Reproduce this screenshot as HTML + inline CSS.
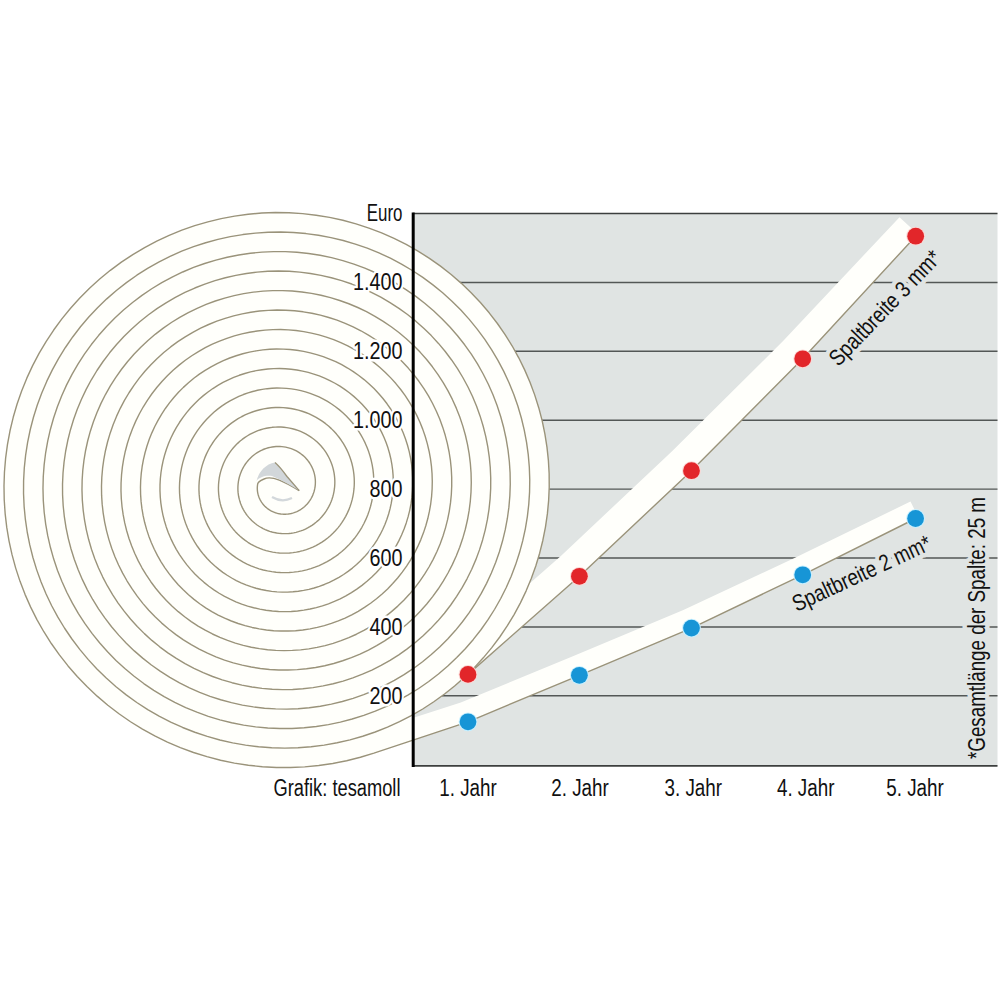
<!DOCTYPE html>
<html><head><meta charset="utf-8"><style>
html,body{margin:0;padding:0;background:#fff;width:1000px;height:1000px;overflow:hidden}
svg{display:block}
</style></head><body>
<svg width="1000" height="1000" viewBox="0 0 1000 1000">
<rect x="413" y="213.5" width="584.5" height="552.5" fill="#e0e4e3"/>
<line x1="413" y1="282.4" x2="997.5" y2="282.4" stroke="#535756" stroke-width="1.45"/>
<line x1="413" y1="351.3" x2="997.5" y2="351.3" stroke="#535756" stroke-width="1.45"/>
<line x1="413" y1="420.2" x2="997.5" y2="420.2" stroke="#535756" stroke-width="1.45"/>
<line x1="413" y1="489.1" x2="997.5" y2="489.1" stroke="#535756" stroke-width="1.45"/>
<line x1="413" y1="558.0" x2="997.5" y2="558.0" stroke="#535756" stroke-width="1.45"/>
<line x1="413" y1="626.9" x2="997.5" y2="626.9" stroke="#535756" stroke-width="1.45"/>
<line x1="413" y1="695.8" x2="997.5" y2="695.8" stroke="#535756" stroke-width="1.45"/>
<path d="M529.11,583.94 L532.06,576.47 L534.79,568.91 L537.28,561.27 L539.55,553.55 L541.58,545.76 L543.38,537.92 L544.94,530.02 L546.26,522.08 L547.35,514.09 L548.19,506.08 L548.79,498.04 L549.15,489.98 L549.27,481.91 L549.14,473.84 L548.77,465.78 L548.16,457.72 L547.30,449.69 L546.20,441.68 L544.86,433.71 L543.28,425.77 L541.46,417.89 L539.41,410.06 L537.12,402.30 L534.59,394.60 L531.83,386.98 L528.85,379.45 L525.63,372.01 L522.19,364.66 L518.54,357.42 L514.66,350.29 L510.57,343.27 L506.27,336.39 L501.76,329.63 L497.04,323.01 L492.13,316.53 L487.03,310.20 L481.73,304.02 L476.25,298.01 L470.58,292.16 L464.74,286.48 L458.74,280.98 L452.56,275.66 L446.23,270.52 L439.74,265.58 L433.10,260.84 L426.32,256.29 L419.41,251.95 L412.36,247.82 L405.19,243.90 L397.91,240.20 L390.51,236.72 L383.01,233.46 L375.41,230.43 L367.72,227.63 L359.95,225.06 L352.10,222.72 L344.18,220.62 L336.20,218.76 L328.16,217.14 L320.08,215.76 L311.96,214.63 L303.80,213.74 L295.61,213.10 L287.41,212.71 L279.20,212.56 L270.98,212.66 L262.77,213.01 L254.56,213.60 L246.38,214.44 L238.23,215.53 L230.10,216.87 L222.02,218.44 L213.99,220.27 L206.01,222.33 L198.10,224.64 L190.25,227.18 L182.49,229.96 L174.80,232.97 L167.21,236.22 L159.72,239.69 L152.34,243.39 L145.06,247.31 L137.91,251.45 L130.88,255.80 L123.98,260.37 L117.22,265.14 L110.61,270.12 L104.15,275.29 L97.84,280.66 L91.70,286.22 L85.72,291.96 L79.92,297.88 L74.30,303.98 L68.86,310.25 L63.61,316.68 L58.56,323.26 L53.70,330.00 L49.05,336.88 L44.61,343.91 L40.37,351.06 L36.36,358.35 L32.56,365.75 L28.99,373.27 L25.65,380.89 L22.53,388.61 L19.65,396.43 L17.01,404.33 L14.60,412.31 L12.44,420.36 L10.51,428.48 L8.83,436.66 L7.40,444.88 L6.22,453.15 L5.29,461.45 L4.60,469.77 L4.17,478.12 L3.99,486.48 L4.06,494.84 L4.38,503.21 L4.96,511.56 L5.78,519.89 L6.86,528.19 L8.19,536.47 L9.77,544.70 L11.59,552.88 L13.67,561.01 L15.98,569.07 L18.54,577.06 L21.34,584.98 L24.38,592.81 L27.65,600.54 L31.16,608.18 L34.90,615.71 L38.86,623.13 L43.04,630.42 L47.45,637.59 L52.07,644.63 L56.90,651.53 L61.94,658.27 L67.19,664.87 L72.63,671.31 L78.26,677.58 L84.08,683.68 L90.09,689.61 L96.27,695.36 L102.63,700.91 L109.15,706.28 L115.84,711.45 L122.67,716.41 L129.66,721.17 L136.79,725.72 L144.06,730.05 L151.46,734.16 L158.98,738.05 L166.61,741.71 L174.36,745.15 L182.20,748.34 L190.15,751.30 L198.18,754.03 L206.29,756.50 L214.48,758.74 L222.73,760.72 L231.04,762.46 L239.40,763.95 L247.81,765.18 L256.25,766.16 L264.72,766.89 L273.22,767.36 L281.72,767.58 L290.23,767.54 L298.74,767.24 L307.24,766.68 L315.72,765.87 L324.17,764.81 L332.60,763.49 L340.98,761.91 L349.31,760.09 L357.59,758.01 L365.80,755.68 L373.94,753.11 L468.00,721.80 L579.40,675.30 L691.50,628.10 L802.70,574.80 L918.28,517.16 L910.48,501.50 L794.53,558.09 L683.37,610.04 L571.67,656.86 L460.80,702.59 L333.64,743.48 L341.61,741.84 L349.52,739.96 L357.37,737.83 L365.16,735.46 L372.87,732.85 L380.51,730.01 L388.05,726.92 L395.50,723.61 L402.84,720.06 L410.07,716.29 L417.19,712.30 L424.18,708.08 L431.04,703.66 L437.77,699.02 L444.35,694.17 L450.78,689.12 L457.05,683.87 L463.16,678.43 L469.10,672.80 L468.00,674.40 L579.40,576.30 L691.50,470.70 L802.70,358.80 L917.73,233.99 L899.50,217.19 L783.55,340.47 L672.31,450.99 L560.88,555.97 L449.83,653.76 L529.11,583.94Z" fill="#fffffb"/>
<path d="M299.2,490.6 C285,482 272,475 264,479 C259,481 257.3,483 257.5,485.2 L257.37,486.41 L257.31,487.63 L257.31,488.86 L257.37,490.09 L257.49,491.33 L257.68,492.57 L257.94,493.81 L258.25,495.03 L258.63,496.25 L259.08,497.46 L259.59,498.64 L260.16,499.81 L260.79,500.95 L261.49,502.07 L262.24,503.15 L263.05,504.20 L263.93,505.22 L264.85,506.19 L265.83,507.13 L266.86,508.01 L267.95,508.85 L269.08,509.64 L270.25,510.37 L271.47,511.05 L272.72,511.66 L274.01,512.22 L275.34,512.71 L276.70,513.14 L278.08,513.50 L279.49,513.79 L280.92,514.01 L282.36,514.15 L283.82,514.23 L285.29,514.23 L286.77,514.16 L288.24,514.01 L289.72,513.79 L291.19,513.49 L292.65,513.11 L294.09,512.66 L295.52,512.13 L296.93,511.53 L298.31,510.86 L299.67,510.11 L300.99,509.29 L302.27,508.40 L303.51,507.45 L304.71,506.42 L305.86,505.33 L306.97,504.18 L308.01,502.97 L309.00,501.70 L309.93,500.38 L310.79,499.01 L311.59,497.58 L312.32,496.12 L312.97,494.61 L313.55,493.06 L314.06,491.47 L314.49,489.86 L314.83,488.22 L315.10,486.56 L315.28,484.87 L315.37,483.17 L315.39,481.47 L315.31,479.75 L315.15,478.04 L314.90,476.32 L314.56,474.62 L314.13,472.92 L313.62,471.24 L313.02,469.59 L312.34,467.95 L311.57,466.35 L310.72,464.78 L309.78,463.25 L308.77,461.76 L307.67,460.32 L306.50,458.93 L305.26,457.60 L303.95,456.32 L302.56,455.11 L301.11,453.96 L299.60,452.89 L298.03,451.88 L296.41,450.95 L294.73,450.11 L293.01,449.34 L291.24,448.66 L289.44,448.07 L287.59,447.56 L285.72,447.15 L283.82,446.83 L281.90,446.61 L279.97,446.48 L278.02,446.45 L276.06,446.52 L274.11,446.69 L272.16,446.96 L270.21,447.32 L268.28,447.79 L266.37,448.35 L264.48,449.01 L262.62,449.77 L260.79,450.63 L259.00,451.58 L257.25,452.62 L255.56,453.76 L253.91,454.98 L252.32,456.29 L250.80,457.68 L249.34,459.15 L247.95,460.70 L246.64,462.32 L245.41,464.01 L244.25,465.77 L243.19,467.59 L242.21,469.47 L241.33,471.41 L240.54,473.39 L239.85,475.42 L239.26,477.48 L238.77,479.59 L238.39,481.72 L238.12,483.87 L237.95,486.05 L237.89,488.23 L237.94,490.43 L238.10,492.63 L238.38,494.82 L238.76,497.01 L239.26,499.18 L239.87,501.33 L240.58,503.45 L241.41,505.54 L242.34,507.60 L243.38,509.61 L244.52,511.58 L245.77,513.49 L247.11,515.35 L248.55,517.14 L250.08,518.86 L251.70,520.50 L253.41,522.07 L255.20,523.56 L257.07,524.96 L259.01,526.27 L261.03,527.48 L263.11,528.59 L265.25,529.60 L267.44,530.51 L269.69,531.31 L271.97,531.99 L274.30,532.56 L276.66,533.02 L279.05,533.36 L281.46,533.57 L283.89,533.67 L286.33,533.64 L288.77,533.49 L291.20,533.22 L293.63,532.83 L296.04,532.31 L298.43,531.67 L300.79,530.91 L303.12,530.03 L305.41,529.03 L307.65,527.91 L309.84,526.68 L311.98,525.33 L314.05,523.87 L316.04,522.31 L317.97,520.65 L319.81,518.88 L321.57,517.02 L323.24,515.07 L324.81,513.03 L326.28,510.90 L327.65,508.70 L328.91,506.43 L330.05,504.09 L331.08,501.69 L332.00,499.23 L332.79,496.72 L333.45,494.17 L333.99,491.58 L334.40,488.96 L334.67,486.31 L334.82,483.65 L334.83,480.97 L334.70,478.29 L334.44,475.61 L334.05,472.94 L333.52,470.29 L332.86,467.65 L332.06,465.05 L331.13,462.48 L330.07,459.96 L328.88,457.48 L327.57,455.06 L326.13,452.71 L324.57,450.42 L322.89,448.20 L321.10,446.07 L319.20,444.03 L317.19,442.07 L315.08,440.22 L312.88,438.47 L310.58,436.82 L308.20,435.29 L305.74,433.88 L303.20,432.59 L300.59,431.42 L297.93,430.39 L295.20,429.48 L292.43,428.72 L289.61,428.09 L286.76,427.60 L283.88,427.25 L280.98,427.05 L278.06,426.99 L275.14,427.08 L272.22,427.32 L269.30,427.71 L266.40,428.24 L263.53,428.92 L260.68,429.74 L257.87,430.71 L255.11,431.82 L252.40,433.07 L249.74,434.46 L247.16,435.98 L244.64,437.64 L242.21,439.42 L239.86,441.33 L237.61,443.36 L235.46,445.51 L233.41,447.76 L231.47,450.12 L229.65,452.59 L227.94,455.14 L226.37,457.79 L224.93,460.52 L223.62,463.32 L222.45,466.20 L221.42,469.13 L220.54,472.13 L219.81,475.17 L219.23,478.24 L218.81,481.36 L218.54,484.50 L218.43,487.65 L218.47,490.81 L218.68,493.98 L219.04,497.14 L219.57,500.28 L220.25,503.41 L221.09,506.50 L222.09,509.55 L223.24,512.56 L224.54,515.51 L226.00,518.40 L227.60,521.22 L229.34,523.96 L231.22,526.62 L233.24,529.18 L235.39,531.65 L237.67,534.01 L240.07,536.27 L242.58,538.40 L245.20,540.41 L247.93,542.29 L250.76,544.03 L253.67,545.64 L256.67,547.10 L259.75,548.41 L262.89,549.57 L266.10,550.57 L269.36,551.41 L272.66,552.09 L276.00,552.60 L279.38,552.94 L282.77,553.12 L286.17,553.13 L289.58,552.96 L292.99,552.63 L296.38,552.12 L299.75,551.44 L303.08,550.59 L306.38,549.58 L309.63,548.40 L312.83,547.05 L315.96,545.54 L319.02,543.87 L321.99,542.05 L324.88,540.08 L327.67,537.95 L330.36,535.69 L332.94,533.29 L335.40,530.76 L337.73,528.10 L339.93,525.32 L342.00,522.43 L343.92,519.44 L345.69,516.34 L347.31,513.15 L348.77,509.88 L350.07,506.53 L351.20,503.12 L352.16,499.64 L352.95,496.11 L353.56,492.54 L353.99,488.94 L354.25,485.31 L354.31,481.66 L354.20,478.01 L353.90,474.36 L353.42,470.73 L352.76,467.11 L351.92,463.52 L350.89,459.98 L349.68,456.48 L348.30,453.04 L346.75,449.66 L345.02,446.36 L343.13,443.15 L341.07,440.03 L338.86,437.00 L336.49,434.09 L333.98,431.29 L331.32,428.62 L328.52,426.08 L325.60,423.68 L322.55,421.42 L319.39,419.31 L316.12,417.36 L312.74,415.57 L309.28,413.95 L305.73,412.51 L302.11,411.24 L298.42,410.15 L294.67,409.24 L290.88,408.52 L287.04,408.00 L283.18,407.66 L279.30,407.52 L275.40,407.57 L271.51,407.82 L267.62,408.26 L263.76,408.90 L259.92,409.73 L256.13,410.76 L252.38,411.98 L248.69,413.38 L245.07,414.98 L241.53,416.75 L238.07,418.71 L234.71,420.84 L231.45,423.14 L228.31,425.60 L225.28,428.22 L222.39,431.00 L219.63,433.92 L217.02,436.99 L214.57,440.19 L212.27,443.51 L210.13,446.95 L208.17,450.50 L206.38,454.15 L204.78,457.89 L203.36,461.72 L202.13,465.62 L201.10,469.58 L200.26,473.60 L199.63,477.66 L199.20,481.76 L198.98,485.88 L198.96,490.01 L199.15,494.15 L199.55,498.28 L200.15,502.39 L200.96,506.48 L201.98,510.53 L203.20,514.53 L204.62,518.47 L206.24,522.34 L208.06,526.13 L210.06,529.83 L212.26,533.44 L214.63,536.93 L217.19,540.31 L219.91,543.57 L222.80,546.69 L225.84,549.66 L229.04,552.49 L232.38,555.15 L235.86,557.65 L239.46,559.98 L243.18,562.13 L247.02,564.09 L250.95,565.86 L254.97,567.43 L259.08,568.81 L263.25,569.98 L267.49,570.93 L271.78,571.68 L276.10,572.22 L280.46,572.53 L284.83,572.63 L289.21,572.51 L293.59,572.17 L297.95,571.61 L302.29,570.83 L306.59,569.83 L310.84,568.62 L315.03,567.19 L319.15,565.55 L323.20,563.70 L327.15,561.65 L331.00,559.40 L334.74,556.96 L338.36,554.33 L341.85,551.51 L345.20,548.52 L348.41,545.36 L351.45,542.04 L354.33,538.56 L357.04,534.94 L359.56,531.18 L361.90,527.29 L364.05,523.28 L365.99,519.17 L367.73,514.95 L369.26,510.64 L370.57,506.26 L371.67,501.81 L372.54,497.30 L373.19,492.75 L373.60,488.16 L373.79,483.55 L373.75,478.92 L373.47,474.30 L372.97,469.69 L372.23,465.10 L371.26,460.55 L370.06,456.04 L368.64,451.60 L366.99,447.22 L365.12,442.92 L363.04,438.72 L360.74,434.61 L358.24,430.62 L355.54,426.76 L352.64,423.03 L349.56,419.44 L346.29,416.01 L342.85,412.74 L339.24,409.64 L335.48,406.72 L331.57,403.98 L327.52,401.45 L323.34,399.11 L319.05,396.98 L314.64,395.07 L310.14,393.38 L305.55,391.91 L300.89,390.67 L296.16,389.67 L291.38,388.90 L286.56,388.37 L281.72,388.08 L276.85,388.04 L271.99,388.24 L267.13,388.68 L262.29,389.37 L257.48,390.30 L252.72,391.47 L248.02,392.88 L243.38,394.53 L238.83,396.40 L234.37,398.51 L230.01,400.85 L225.77,403.40 L221.66,406.16 L217.68,409.13 L213.85,412.31 L210.18,415.67 L206.68,419.22 L203.35,422.95 L200.21,426.84 L197.26,430.90 L194.52,435.10 L191.99,439.44 L189.67,443.91 L187.57,448.50 L185.71,453.19 L184.08,457.98 L182.69,462.85 L181.54,467.79 L180.64,472.79 L179.99,477.84 L179.60,482.92 L179.45,488.02 L179.57,493.13 L179.94,498.24 L180.56,503.33 L181.44,508.39 L182.58,513.40 L183.97,518.36 L185.60,523.26 L187.48,528.07 L189.61,532.79 L191.97,537.40 L194.56,541.90 L197.38,546.26 L200.41,550.49 L203.66,554.57 L207.12,558.48 L210.77,562.22 L214.61,565.78 L218.63,569.15 L222.82,572.32 L227.17,575.27 L231.67,578.01 L236.30,580.53 L241.07,582.81 L245.95,584.86 L250.93,586.66 L256.00,588.21 L261.16,589.51 L266.38,590.55 L271.65,591.33 L276.96,591.85 L282.30,592.10 L287.65,592.08 L293.00,591.79 L298.34,591.23 L303.66,590.41 L308.93,589.32 L314.15,587.97 L319.30,586.35 L324.37,584.48 L329.35,582.35 L334.22,579.97 L338.98,577.35 L343.60,574.49 L348.08,571.39 L352.41,568.07 L356.57,564.54 L360.56,560.79 L364.36,556.85 L367.96,552.71 L371.35,548.39 L374.53,543.90 L377.48,539.25 L380.21,534.46 L382.69,529.52 L384.92,524.46 L386.90,519.29 L388.63,514.02 L390.08,508.66 L391.27,503.22 L392.19,497.73 L392.84,492.19 L393.20,486.62 L393.29,481.02 L393.09,475.43 L392.62,469.84 L391.86,464.27 L390.83,458.74 L389.52,453.27 L387.94,447.85 L386.08,442.52 L383.95,437.28 L381.57,432.14 L378.92,427.13 L376.03,422.24 L372.89,417.50 L369.51,412.92 L365.90,408.50 L362.07,404.27 L358.02,400.23 L353.78,396.39 L349.34,392.76 L344.72,389.35 L339.92,386.18 L334.97,383.25 L329.87,380.56 L324.64,378.13 L319.28,375.96 L313.81,374.06 L308.25,372.43 L302.61,371.08 L296.90,370.01 L291.13,369.23 L285.33,368.74 L279.50,368.54 L273.65,368.63 L267.82,369.01 L262.00,369.69 L256.22,370.66 L250.48,371.92 L244.80,373.46 L239.21,375.29 L233.70,377.40 L228.30,379.79 L223.02,382.44 L217.87,385.37 L212.87,388.55 L208.03,391.98 L203.36,395.65 L198.87,399.56 L194.58,403.69 L190.49,408.04 L186.62,412.59 L182.99,417.34 L179.58,422.26 L176.43,427.36 L173.53,432.62 L170.89,438.03 L168.53,443.56 L166.44,449.22 L164.63,454.97 L163.11,460.82 L161.89,466.75 L160.96,472.74 L160.33,478.77 L160.01,484.84 L159.99,490.92 L160.27,497.00 L160.86,503.07 L161.75,509.11 L162.95,515.11 L164.44,521.04 L166.24,526.91 L168.32,532.68 L170.70,538.34 L173.36,543.89 L176.29,549.31 L179.50,554.57 L182.97,559.68 L186.70,564.61 L190.68,569.36 L194.89,573.91 L199.33,578.24 L203.99,582.35 L208.85,586.23 L213.91,589.87 L219.15,593.25 L224.56,596.37 L230.13,599.22 L235.84,601.79 L241.67,604.08 L247.63,606.07 L253.68,607.76 L259.81,609.15 L266.02,610.24 L272.28,611.01 L278.58,611.47 L284.90,611.61 L291.23,611.44 L297.55,610.95 L303.84,610.14 L310.10,609.02 L316.29,607.58 L322.42,605.84 L328.46,603.79 L334.39,601.43 L340.21,598.78 L345.89,595.84 L351.43,592.61 L356.80,589.10 L362.00,585.33 L367.01,581.30 L371.82,577.01 L376.41,572.48 L380.77,567.73 L384.90,562.76 L388.78,557.58 L392.39,552.20 L395.74,546.65 L398.81,540.92 L401.59,535.05 L404.08,529.03 L406.27,522.89 L408.15,516.65 L409.72,510.30 L410.96,503.88 L411.89,497.40 L412.49,490.87 L412.77,484.32 L412.71,477.75 L412.33,471.18 L411.62,464.63 L410.58,458.12 L409.22,451.66 L407.53,445.27 L405.52,438.96 L403.19,432.76 L400.56,426.67 L397.62,420.71 L394.38,414.91 L390.85,409.26 L387.04,403.79 L382.96,398.52 L378.61,393.45 L374.01,388.59 L369.16,383.97 L364.09,379.59 L358.79,375.47 L353.29,371.61 L347.60,368.03 L341.73,364.73 L335.69,361.73 L329.51,359.03 L323.19,356.64 L316.75,354.56 L310.20,352.81 L303.57,351.39 L296.87,350.30 L290.12,349.55 L283.33,349.13 L276.52,349.05 L269.70,349.32 L262.90,349.92 L256.13,350.87 L249.41,352.16 L242.75,353.78 L236.18,355.73 L229.71,358.02 L223.35,360.63 L217.12,363.55 L211.04,366.79 L205.12,370.33 L199.38,374.17 L193.83,378.29 L188.49,382.70 L183.37,387.37 L178.49,392.29 L173.85,397.46 L169.47,402.86 L165.37,408.48 L161.54,414.30 L158.01,420.32 L154.78,426.51 L151.86,432.86 L149.26,439.35 L146.98,445.98 L145.04,452.72 L143.43,459.56 L142.17,466.47 L141.25,473.45 L140.68,480.47 L140.47,487.52 L140.61,494.58 L141.10,501.63 L141.94,508.65 L143.14,515.64 L144.68,522.56 L146.57,529.40 L148.81,536.15 L151.38,542.78 L154.28,549.28 L157.51,555.64 L161.05,561.84 L164.91,567.85 L169.07,573.67 L173.51,579.29 L178.24,584.68 L183.24,589.83 L188.49,594.73 L193.99,599.36 L199.72,603.73 L205.67,607.80 L211.82,611.57 L218.15,615.04 L224.66,618.19 L231.33,621.01 L238.14,623.49 L245.07,625.64 L252.10,627.44 L259.23,628.88 L266.42,629.97 L273.67,630.70 L280.96,631.06 L288.26,631.06 L295.56,630.70 L302.84,629.97 L310.08,628.87 L317.27,627.41 L324.38,625.59 L331.39,623.42 L338.30,620.90 L345.08,618.03 L351.72,614.82 L358.19,611.28 L364.49,607.41 L370.59,603.23 L376.48,598.75 L382.14,593.97 L387.57,588.91 L392.74,583.58 L397.64,578.00 L402.26,572.16 L406.59,566.10 L410.61,559.82 L414.32,553.35 L417.70,546.68 L420.75,539.85 L423.45,532.87 L425.81,525.76 L427.81,518.53 L429.44,511.20 L430.71,503.79 L431.61,496.31 L432.13,488.80 L432.28,481.26 L432.05,473.71 L431.44,466.18 L430.45,458.68 L429.09,451.23 L427.36,443.85 L425.26,436.56 L422.79,429.37 L419.96,422.32 L416.78,415.40 L413.26,408.65 L409.40,402.07 L405.20,395.69 L400.70,389.52 L395.88,383.57 L390.76,377.87 L385.37,372.43 L379.70,367.26 L373.77,362.37 L367.60,357.78 L361.20,353.50 L354.59,349.55 L347.79,345.92 L340.80,342.64 L333.65,339.71 L326.35,337.13 L318.93,334.92 L311.40,333.09 L303.78,331.63 L296.09,330.55 L288.34,329.86 L280.57,329.56 L272.78,329.65 L265.00,330.12 L257.24,330.99 L249.53,332.24 L241.88,333.88 L234.32,335.90 L226.86,338.30 L219.52,341.08 L212.32,344.22 L205.28,347.72 L198.42,351.57 L191.76,355.76 L185.30,360.29 L179.08,365.14 L173.09,370.29 L167.37,375.75 L161.93,381.49 L156.77,387.50 L151.91,393.77 L147.37,400.28 L143.16,407.02 L139.28,413.97 L135.76,421.10 L132.59,428.42 L129.79,435.88 L127.36,443.49 L125.32,451.22 L123.66,459.04 L122.40,466.95 L121.53,474.92 L121.06,482.93 L120.99,490.96 L121.33,498.99 L122.06,507.00 L123.20,514.97 L124.73,522.89 L126.67,530.72 L128.99,538.46 L131.70,546.08 L134.79,553.56 L138.25,560.88 L142.08,568.02 L146.27,574.98 L150.80,581.72 L155.67,588.23 L160.87,594.50 L166.37,600.50 L172.18,606.23 L178.27,611.67 L184.63,616.79 L191.24,621.60 L198.10,626.08 L205.17,630.21 L212.45,633.99 L219.92,637.40 L227.56,640.43 L235.34,643.08 L243.26,645.34 L251.28,647.21 L259.40,648.67 L267.59,649.73 L275.83,650.37 L284.10,650.60 L292.37,650.42 L300.64,649.83 L308.87,648.82 L317.05,647.39 L325.16,645.56 L333.17,643.33 L341.07,640.69 L348.83,637.66 L356.44,634.24 L363.87,630.44 L371.11,626.27 L378.15,621.74 L384.95,616.86 L391.50,611.64 L397.80,606.10 L403.81,600.24 L409.53,594.08 L414.93,587.64 L420.01,580.92 L424.76,573.96 L429.15,566.76 L433.19,559.35 L436.85,551.73 L440.13,543.93 L443.01,535.97 L445.50,527.87 L447.58,519.65 L449.25,511.33 L450.50,502.93 L451.33,494.46 L451.73,485.96 L451.71,477.44 L451.27,468.92 L450.40,460.43 L449.10,451.99 L447.38,443.61 L445.24,435.33 L442.69,427.15 L439.73,419.10 L436.36,411.21 L432.61,403.48 L428.47,395.95 L423.95,388.63 L419.07,381.53 L413.83,374.68 L408.25,368.10 L402.35,361.80 L396.13,355.79 L389.61,350.10 L382.81,344.74 L375.75,339.72 L368.43,335.05 L360.89,330.76 L353.13,326.84 L345.18,323.31 L337.06,320.18 L328.78,317.46 L320.37,315.16 L311.84,313.27 L303.23,311.82 L294.54,310.79 L285.81,310.20 L277.05,310.05 L268.29,310.34 L259.54,311.06 L250.83,312.23 L242.19,313.83 L233.63,315.86 L225.17,318.31 L216.84,321.20 L208.66,324.49 L200.64,328.20 L192.81,332.30 L185.20,336.80 L177.81,341.67 L170.66,346.92 L163.78,352.51 L157.19,358.46 L150.89,364.72 L144.91,371.31 L139.26,378.18 L133.96,385.34 L129.02,392.76 L124.45,400.43 L120.27,408.32 L116.49,416.42 L113.11,424.70 L110.15,433.15 L107.61,441.75 L105.50,450.47 L103.83,459.29 L102.60,468.19 L101.82,477.15 L101.49,486.14 L101.60,495.15 L102.17,504.15 L103.19,513.12 L104.66,522.03 L106.57,530.86 L108.92,539.60 L111.71,548.22 L114.93,556.69 L118.58,564.99 L122.64,573.12 L127.10,581.03 L131.95,588.72 L137.19,596.16 L142.80,603.34 L148.77,610.23 L155.08,616.82 L161.72,623.10 L168.67,629.04 L175.91,634.62 L183.43,639.85 L191.21,644.69 L199.23,649.15 L207.47,653.20 L215.90,656.83 L224.52,660.05 L233.29,662.83 L242.20,665.17 L251.22,667.06 L260.34,668.50 L269.52,669.48 L278.74,670.01 L287.99,670.07 L297.24,669.67 L306.47,668.80 L315.64,667.48 L324.75,665.70 L333.77,663.46 L342.66,660.77 L351.42,657.63 L360.02,654.06 L368.44,650.06 L376.65,645.64 L384.64,640.81 L392.39,635.59 L399.87,629.97 L407.06,623.99 L413.95,617.65 L420.52,610.96 L426.76,603.95 L432.64,596.63 L438.15,589.02 L443.28,581.14 L448.01,573.00 L452.33,564.63 L456.24,556.05 L459.71,547.28 L462.74,538.33 L465.32,529.24 L467.44,520.02 L469.11,510.70 L470.30,501.30 L471.02,491.85 L471.28,482.36 L471.05,472.87 L470.35,463.39 L469.18,453.95 L467.53,444.57 L465.42,435.28 L462.84,426.10 L459.80,417.05 L456.31,408.16 L452.38,399.44 L448.01,390.93 L443.22,382.64 L438.02,374.59 L432.42,366.81 L426.43,359.31 L420.06,352.11 L413.34,345.24 L406.28,338.70 L398.89,332.52 L391.20,326.72 L383.22,321.30 L374.97,316.28 L366.48,311.68 L357.76,307.50 L348.83,303.77 L339.72,300.48 L330.45,297.65 L321.04,295.29 L311.52,293.39 L301.91,291.98 L292.23,291.04 L282.51,290.59 L272.78,290.63 L263.04,291.16 L253.34,292.17 L243.70,293.67 L234.13,295.64 L224.66,298.10 L215.33,301.03 L206.14,304.43 L197.13,308.28 L188.32,312.58 L179.72,317.33 L171.37,322.50 L163.28,328.08 L155.47,334.07 L147.97,340.45 L140.79,347.20 L133.95,354.30 L127.46,361.75 L121.36,369.51 L115.64,377.58 L110.34,385.93 L105.45,394.54 L100.99,403.39 L96.99,412.46 L93.43,421.73 L90.34,431.17 L87.73,440.76 L85.60,450.48 L83.95,460.30 L82.80,470.19 L82.14,480.14 L81.98,490.12 L82.32,500.10 L83.17,510.06 L84.50,519.97 L86.34,529.81 L88.66,539.56 L91.47,549.18 L94.77,558.66 L98.53,567.97 L102.76,577.08 L107.44,585.98 L112.57,594.65 L118.13,603.05 L124.10,611.16 L130.48,618.98 L137.25,626.47 L144.39,633.62 L151.88,640.41 L159.71,646.82 L167.86,652.84 L176.30,658.44 L185.02,663.62 L193.99,668.36 L203.20,672.65 L212.62,676.48 L222.22,679.83 L231.99,682.70 L241.90,685.08 L251.92,686.97 L262.03,688.35 L272.21,689.22 L282.42,689.59 L292.65,689.44 L302.86,688.78 L313.04,687.61 L323.15,685.93 L333.17,683.75 L343.08,681.07 L352.85,677.89 L362.46,674.22 L371.88,670.08 L381.08,665.46 L390.05,660.39 L398.77,654.87 L407.20,648.92 L415.33,642.55 L423.13,635.77 L430.60,628.61 L437.70,621.08 L444.42,613.20 L450.74,604.98 L456.65,596.45 L462.13,587.63 L467.16,578.54 L471.74,569.20 L475.85,559.64 L479.47,549.88 L482.61,539.94 L485.25,529.85 L487.38,519.63 L488.99,509.31 L490.10,498.92 L490.68,488.48 L490.73,478.01 L490.27,467.54 L489.28,457.10 L487.76,446.72 L485.73,436.42 L483.19,426.23 L480.13,416.17 L476.58,406.26 L472.53,396.54 L467.99,387.03 L462.98,377.75 L457.51,368.72 L451.60,359.98 L445.24,351.53 L438.47,343.41 L431.29,335.62 L423.73,328.21 L415.80,321.17 L407.52,314.54 L398.92,308.32 L390.01,302.54 L380.81,297.20 L371.35,292.33 L361.66,287.94 L351.74,284.03 L341.64,280.62 L331.37,277.72 L320.97,275.33 L310.44,273.47 L299.83,272.13 L289.16,271.32 L278.46,271.05 L267.74,271.32 L257.05,272.12 L246.40,273.45 L235.82,275.32 L225.35,277.72 L215.00,280.64 L204.80,284.07 L194.77,288.02 L184.95,292.46 L175.36,297.40 L166.02,302.81 L156.96,308.68 L148.19,315.01 L139.74,321.77 L131.64,328.95 L123.91,336.53 L116.55,344.50 L109.60,352.82 L103.07,361.50 L96.97,370.49 L91.33,379.79 L86.16,389.36 L81.47,399.18 L77.27,409.24 L73.58,419.50 L70.41,429.94 L67.76,440.53 L65.64,451.25 L64.06,462.07 L63.02,472.96 L62.52,483.90 L62.58,494.85 L63.18,505.80 L64.33,516.71 L66.02,527.56 L68.26,538.32 L71.03,548.96 L74.34,559.46 L78.17,569.78 L82.51,579.91 L87.36,589.82 L92.70,599.47 L98.52,608.86 L104.81,617.94 L111.55,626.71 L118.72,635.14 L126.31,643.20 L134.30,650.88 L142.67,658.15 L151.40,665.00 L160.47,671.41 L169.86,677.36 L179.53,682.84 L189.48,687.84 L199.67,692.33 L210.08,696.31 L220.68,699.76 L231.45,702.69 L242.36,705.07 L253.38,706.91 L264.49,708.19 L275.66,708.92 L286.85,709.09 L298.05,708.69 L309.23,707.74 L320.35,706.23 L331.38,704.16 L342.31,701.54 L353.10,698.38 L363.73,694.68 L374.16,690.44 L384.38,685.69 L394.35,680.43 L404.06,674.68 L413.47,668.44 L422.56,661.73 L431.31,654.57 L439.70,646.98 L447.71,638.97 L455.31,630.57 L462.48,621.79 L469.22,612.66 L475.49,603.19 L481.28,593.42 L486.58,583.36 L491.38,573.05 L495.65,562.50 L499.40,551.74 L502.60,540.80 L505.26,529.70 L507.36,518.48 L508.89,507.16 L509.86,495.77 L510.26,484.34 L510.09,472.90 L509.34,461.47 L508.02,450.08 L506.13,438.77 L503.68,427.55 L500.67,416.47 L497.10,405.54 L492.99,394.80 L488.35,384.27 L483.18,373.98 L477.50,363.96 L471.32,354.22 L464.66,344.80 L457.53,335.71 L449.94,326.99 L441.93,318.66 L433.51,310.73 L424.69,303.22 L415.50,296.17 L405.96,289.57 L396.10,283.46 L385.94,277.84 L375.51,272.74 L364.82,268.16 L353.91,264.11 L342.81,260.62 L331.54,257.68 L320.13,255.31 L308.60,253.52 L296.99,252.30 L285.33,251.66 L273.64,251.60 L261.96,252.13 L250.31,253.25 L238.72,254.94 L227.23,257.22 L215.86,260.07 L204.63,263.49 L193.58,267.46 L182.74,271.99 L172.13,277.06 L161.78,282.65 L151.72,288.76 L141.97,295.37 L132.55,302.47 L123.50,310.03 L114.83,318.04 L106.56,326.47 L98.73,335.32 L91.34,344.56 L84.41,354.15 L77.97,364.09 L72.03,374.35 L66.61,384.89 L61.72,395.71 L57.38,406.75 L53.59,418.01 L50.36,429.46 L47.71,441.06 L45.64,452.78 L44.16,464.60 L43.27,476.49 L42.98,488.41 L43.28,500.34 L44.18,512.25 L45.68,524.11 L47.77,535.88 L50.45,547.55 L53.70,559.07 L57.54,570.42 L61.94,581.58 L66.89,592.50 L72.39,603.18 L78.42,613.57 L84.96,623.65 L92.01,633.40 L99.54,642.79 L107.54,651.80 L115.98,660.40 L124.84,668.58 L134.11,676.30 L143.76,683.56 L153.77,690.33 L164.11,696.60 L174.76,702.34 L185.69,707.55 L196.87,712.21 L208.28,716.30 L219.89,719.82 L231.66,722.76 L243.58,725.11 L255.61,726.86 L267.71,728.01 L279.87,728.55 L292.05,728.48 L304.21,727.80 L316.34,726.52 L328.39,724.63 L340.34,722.13 L352.16,719.04 L363.81,715.37 L375.28,711.11 L386.52,706.27 L397.52,700.88 L408.24,694.95 L418.65,688.48 L428.74,681.49 L438.47,674.00 L447.82,666.03 L456.76,657.60 L465.28,648.72 L473.34,639.43 L480.94,629.73 L488.05,619.66 L494.65,609.25 L500.72,598.50 L506.25,587.47 L511.23,576.16 L515.64,564.61 L519.46,552.84 L522.70,540.90 L525.33,528.79 L527.36,516.57 L528.78,504.25 L529.58,491.86 L529.76,479.45 L529.31,467.03 L528.25,454.64 L526.56,442.32 L524.26,430.08 L521.35,417.97 L517.84,406.02 L513.73,394.24 L509.03,382.68 L503.76,371.36 L497.93,360.31 L491.54,349.56 L484.62,339.14 L477.19,329.07 L469.25,319.38 L460.84,310.09 L451.96,301.23 L442.65,292.82 L432.92,284.87 L422.81,277.43 L412.32,270.49 L401.50,264.08 L390.36,258.22 L378.93,252.91 L367.25,248.19 L355.34,244.05 L343.22,240.51 L330.94,237.57 L318.52,235.26 L305.99,233.57 L293.39,232.50 L280.74,232.07 L268.07,232.27 L255.43,233.10 L242.83,234.57 L230.32,236.66 L217.92,239.38 L205.66,242.72 L193.58,246.67 L181.70,251.22 L170.06,256.36 L158.68,262.09 L147.59,268.37 L136.83,275.21 L126.42,282.58 L116.38,290.47 L106.75,298.86 L97.54,307.72 L88.78,317.04 L80.49,326.79 L72.69,336.95 L65.41,347.49 L58.66,358.39 L52.46,369.62 L46.83,381.16 L41.77,392.96 L37.31,405.02 L33.46,417.29 L30.22,429.74 L27.61,442.35 L25.63,455.08 L24.29,467.90 L23.59,480.78 L23.54,493.68 L24.13,506.58 L25.37,519.45 L27.25,532.24 L29.77,544.93 L32.92,557.48 L36.70,569.87 L41.09,582.06 L46.09,594.03 L51.69,605.73 L57.87,617.15 L64.62,628.25 L71.92,639.01 L79.75,649.40 L88.10,659.38 L96.94,668.94 L106.25,678.06 L116.02,686.70 L126.21,694.84 L136.80,702.48 L147.76,709.57 L159.08,716.12 L170.71,722.09 L182.63,727.48 L194.82,732.26 L207.24,736.44 L219.85,739.99 L232.64,742.90 L245.57,745.18 L258.60,746.80 L271.70,747.78 L284.84,748.09 L297.99,747.75 L311.12,746.75 L324.18,745.10 L337.16,742.79 L350.01,739.84 L362.70,736.24 L375.21,732.01 L387.49,727.16 L399.53,721.70 L411.28,715.63 L422.72,708.99 L433.82,701.77 L444.56,694.01 L454.90,685.71 L464.81,676.90 L474.28,667.61 L483.28,657.84 L491.78,647.63 L499.77,637.00 L507.22,625.98 L514.11,614.59 L520.43,602.87 L526.15,590.84 L531.27,578.53 L535.78,565.97 L539.65,553.19 L542.87,540.23 L545.45,527.12 L547.37,513.89 L548.63,500.57 L549.22,487.19 L549.14,473.80 L548.39,460.42 L546.97,447.08 L544.88,433.82 L542.14,420.68 L538.73,407.69 L534.68,394.87 L529.99,382.26 L524.67,369.90 L518.74,357.81 L512.21,346.03 L505.09,334.58 L497.41,323.50 L489.17,312.81 L480.40,302.53 L471.13,292.71 L461.37,283.35 L451.15,274.49 L440.50,266.14 L429.43,258.34 L417.98,251.09 L406.17,244.42 L394.04,238.35 L381.62,232.88 L368.93,228.05 L356.00,223.85 L342.88,220.30 L329.58,217.41 L316.15,215.19 L302.62,213.64 L289.02,212.76 L275.39,212.57 L261.75,213.07 L248.15,214.24 L234.62,216.09 L221.19,218.62 L207.89,221.82 L194.77,225.68 L181.84,230.20 L169.15,235.36 L156.73,241.15 L144.61,247.56 L132.81,254.57 L121.38,262.17 L110.33,270.33 L99.70,279.04 L89.51,288.28 L79.79,298.02 L70.56,308.24 L61.86,318.92 L53.69,330.02 L46.08,341.52 L39.06,353.40 L32.63,365.62 L26.82,378.15 L21.64,390.97 L17.10,404.03 L13.22,417.32 L10.01,430.78 L7.48,444.40 L5.63,458.14 L4.46,471.96 L3.99,485.83 L4.22,499.71 L5.14,513.57 L6.75,527.38 L9.05,541.10 L12.03,554.69 L15.69,568.12 L20.03,581.36 L25.02,594.37 L30.66,607.13 L36.93,619.59 L43.83,631.73 L51.32,643.52 L59.40,654.93 L68.05,665.92 L77.24,676.47 L86.95,686.56 L97.16,696.15 L107.84,705.23 L118.97,713.76 L130.52,721.73 L142.46,729.12 L154.76,735.91 L167.39,742.07 L180.32,747.60 L193.52,752.48 L206.95,756.69 L220.58,760.23 L234.38,763.09 L248.32,765.25 L262.35,766.71 L276.45,767.47 L290.57,767.53 L304.69,766.88 L318.77,765.52 L332.76,763.46 L346.65,760.70 L360.39,757.24 L373.94,753.11 L468.00,721.80 L579.40,675.30 L691.50,628.10 L802.70,574.80 L915.60,518.50" fill="none" stroke="#9a937a" stroke-width="1.4" stroke-linejoin="round"/>
<path d="M468.00,674.40 L579.40,576.30 L691.50,470.70 L802.70,358.80 L915.70,236.20" fill="none" stroke="#9a937a" stroke-width="1.4" stroke-linejoin="round"/>
<path d="M299.2,490.6 L275,462.5 C266,464 259,471 256.5,481 C259,477 266,475 272,476 C282,480 290,485 299.2,490.6Z" fill="#d2d7da"/>
<path d="M299.2,490.6 L287,476.5 C283,471 279,466 275,462.5" fill="none" stroke="#9a937a" stroke-width="1.3"/>
<path d="M272,497 Q282,503 292,498" fill="none" stroke="#d3d8db" stroke-width="2.2"/>
<line x1="413" y1="213.5" x2="997.5" y2="213.5" stroke="#3c3f3e" stroke-width="1.6"/>
<line x1="413" y1="765.8" x2="997.5" y2="765.8" stroke="#3c3f3e" stroke-width="1.8"/>
<line x1="413.2" y1="212.5" x2="413.2" y2="767" stroke="#000" stroke-width="3"/>
<circle cx="468" cy="674.4" r="9.4" fill="#fbd6d4"/><circle cx="468" cy="674.4" r="8.4" fill="#e2262a"/>
<circle cx="579.4" cy="576.3" r="9.4" fill="#fbd6d4"/><circle cx="579.4" cy="576.3" r="8.4" fill="#e2262a"/>
<circle cx="691.5" cy="470.7" r="9.4" fill="#fbd6d4"/><circle cx="691.5" cy="470.7" r="8.4" fill="#e2262a"/>
<circle cx="802.7" cy="358.8" r="9.4" fill="#fbd6d4"/><circle cx="802.7" cy="358.8" r="8.4" fill="#e2262a"/>
<circle cx="915.7" cy="236.2" r="9.4" fill="#fbd6d4"/><circle cx="915.7" cy="236.2" r="8.4" fill="#e2262a"/>
<circle cx="468" cy="721.8" r="9.4" fill="#c6efff"/><circle cx="468" cy="721.8" r="8.4" fill="#1795d6"/>
<circle cx="579.4" cy="675.3" r="9.4" fill="#c6efff"/><circle cx="579.4" cy="675.3" r="8.4" fill="#1795d6"/>
<circle cx="691.5" cy="628.1" r="9.4" fill="#c6efff"/><circle cx="691.5" cy="628.1" r="8.4" fill="#1795d6"/>
<circle cx="802.7" cy="574.8" r="9.4" fill="#c6efff"/><circle cx="802.7" cy="574.8" r="8.4" fill="#1795d6"/>
<circle cx="915.6" cy="518.5" r="9.4" fill="#c6efff"/><circle cx="915.6" cy="518.5" r="8.4" fill="#1795d6"/>
<g fill="#111" style="font-family:'Liberation Sans',sans-serif">
<text x="402.5" y="221" font-size="23.5" text-anchor="end" textLength="35.7" lengthAdjust="spacingAndGlyphs" stroke="#fff" stroke-width="5" stroke-linejoin="round" fill="none">Euro</text><text x="402.5" y="221" font-size="23.5" text-anchor="end" textLength="35.7" lengthAdjust="spacingAndGlyphs">Euro</text>
<text x="402.5" y="290.2" font-size="24" text-anchor="end" textLength="49.5" lengthAdjust="spacingAndGlyphs" stroke="#fff" stroke-width="5" stroke-linejoin="round" fill="none">1.400</text><text x="402.5" y="290.2" font-size="24" text-anchor="end" textLength="49.5" lengthAdjust="spacingAndGlyphs">1.400</text>
<text x="402.5" y="359.1" font-size="24" text-anchor="end" textLength="49.5" lengthAdjust="spacingAndGlyphs" stroke="#fff" stroke-width="5" stroke-linejoin="round" fill="none">1.200</text><text x="402.5" y="359.1" font-size="24" text-anchor="end" textLength="49.5" lengthAdjust="spacingAndGlyphs">1.200</text>
<text x="402.5" y="428.0" font-size="24" text-anchor="end" textLength="49.5" lengthAdjust="spacingAndGlyphs" stroke="#fff" stroke-width="5" stroke-linejoin="round" fill="none">1.000</text><text x="402.5" y="428.0" font-size="24" text-anchor="end" textLength="49.5" lengthAdjust="spacingAndGlyphs">1.000</text>
<text x="402.5" y="496.9" font-size="24" text-anchor="end" textLength="33" lengthAdjust="spacingAndGlyphs" stroke="#fff" stroke-width="5" stroke-linejoin="round" fill="none">800</text><text x="402.5" y="496.9" font-size="24" text-anchor="end" textLength="33" lengthAdjust="spacingAndGlyphs">800</text>
<text x="402.5" y="565.8" font-size="24" text-anchor="end" textLength="33" lengthAdjust="spacingAndGlyphs" stroke="#fff" stroke-width="5" stroke-linejoin="round" fill="none">600</text><text x="402.5" y="565.8" font-size="24" text-anchor="end" textLength="33" lengthAdjust="spacingAndGlyphs">600</text>
<text x="402.5" y="634.7" font-size="24" text-anchor="end" textLength="33" lengthAdjust="spacingAndGlyphs" stroke="#fff" stroke-width="5" stroke-linejoin="round" fill="none">400</text><text x="402.5" y="634.7" font-size="24" text-anchor="end" textLength="33" lengthAdjust="spacingAndGlyphs">400</text>
<text x="402.5" y="703.6" font-size="24" text-anchor="end" textLength="33" lengthAdjust="spacingAndGlyphs" stroke="#fff" stroke-width="5" stroke-linejoin="round" fill="none">200</text><text x="402.5" y="703.6" font-size="24" text-anchor="end" textLength="33" lengthAdjust="spacingAndGlyphs">200</text>
<text x="400.5" y="795.5" font-size="23.5" text-anchor="end" textLength="127" lengthAdjust="spacingAndGlyphs">Grafik: tesamoll</text>
<text x="468" y="796" font-size="23.5" text-anchor="middle" textLength="57.5" lengthAdjust="spacingAndGlyphs">1. Jahr</text>
<text x="580" y="796" font-size="23.5" text-anchor="middle" textLength="57.5" lengthAdjust="spacingAndGlyphs">2. Jahr</text>
<text x="693.3" y="796" font-size="23.5" text-anchor="middle" textLength="57.5" lengthAdjust="spacingAndGlyphs">3. Jahr</text>
<text x="805.7" y="796" font-size="23.5" text-anchor="middle" textLength="57.5" lengthAdjust="spacingAndGlyphs">4. Jahr</text>
<text x="915" y="796" font-size="23.5" text-anchor="middle" textLength="57.5" lengthAdjust="spacingAndGlyphs">5. Jahr</text>
<g transform="translate(838.5,367.2) rotate(-46.07)"><text x="0" y="0" font-size="23" text-anchor="start" textLength="150" lengthAdjust="spacingAndGlyphs" stroke="#e0e4e3" stroke-width="9" stroke-linejoin="round" fill="none">Spaltbreite 3 mm*</text><text x="0" y="0" font-size="23" text-anchor="start" textLength="150" lengthAdjust="spacingAndGlyphs">Spaltbreite 3 mm*</text></g>
<g transform="translate(796.8,612.0) rotate(-24.88)"><text x="0" y="0" font-size="23" text-anchor="start" textLength="150" lengthAdjust="spacingAndGlyphs" stroke="#e0e4e3" stroke-width="9" stroke-linejoin="round" fill="none">Spaltbreite 2 mm*</text><text x="0" y="0" font-size="23" text-anchor="start" textLength="150" lengthAdjust="spacingAndGlyphs">Spaltbreite 2 mm*</text></g>
<g transform="translate(984.5,759) rotate(-90)"><text x="0" y="0" font-size="23.5" text-anchor="start" textLength="262" lengthAdjust="spacingAndGlyphs" stroke="#e0e4e3" stroke-width="9" stroke-linejoin="round" fill="none">*Gesamtlänge der Spalte: 25 m</text><text x="0" y="0" font-size="23.5" text-anchor="start" textLength="262" lengthAdjust="spacingAndGlyphs">*Gesamtlänge der Spalte: 25 m</text></g>
</g>
</svg>
</body></html>
